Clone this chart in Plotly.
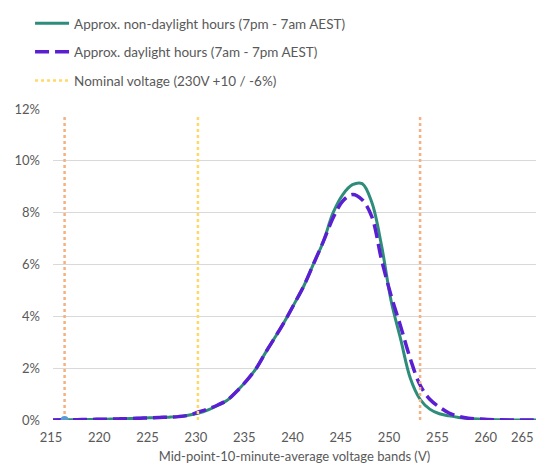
import plotly.graph_objects as go

voltage = list(range(215, 266))

non_daylight = [0, 0.005, 0.01, 0.015, 0.02, 0.03, 0.035, 0.045, 0.055, 0.07,
                0.085, 0.1, 0.11, 0.13, 0.18, 0.26, 0.38, 0.55, 0.75, 1.1,
                1.5, 1.97, 2.6, 3.2, 3.82, 4.5, 5.2, 6.05, 6.9, 8.0,
                8.7, 9.08, 9.12, 8.4, 6.75, 4.6, 3.1, 1.6, 0.8, 0.42,
                0.24, 0.16, 0.1, 0.06, 0.035, 0.02, 0.01, 0.005, 0, 0, 0]

daylight = [0, 0.005, 0.01, 0.015, 0.02, 0.03, 0.035, 0.045, 0.055, 0.07,
            0.085, 0.1, 0.11, 0.13, 0.18, 0.3, 0.42, 0.57, 0.76, 1.1,
            1.5, 1.97, 2.6, 3.2, 3.82, 4.5, 5.2, 6.05, 6.9, 7.8,
            8.45, 8.7, 8.5, 7.85, 6.2, 4.8, 3.6, 2.35, 1.35, 0.8,
            0.5, 0.27, 0.14, 0.07, 0.04, 0.02, 0.01, 0, 0, 0, 0]

nominal_v = 230
lower_v = 216.2
upper_v = 253
line_top = 11.8

x_ticks = list(range(215, 266, 5))
y_ticks = list(range(0, 13, 2))

font_family = "Lato, 'Open Sans', sans-serif"
grey = "#595959"

fig = go.Figure()

fig.add_trace(go.Scatter(
    x=voltage, y=non_daylight, mode="lines", line_shape="spline",
    line=dict(color="#2E8C7A", width=3),
    name="Approx. non-daylight hours (7pm - 7am AEST)", legendgroup="a"))

fig.add_trace(go.Scatter(
    x=voltage, y=daylight, mode="lines", line_shape="spline",
    line=dict(color="#5A1FD3", width=3.5, dash="14px,6px"),
    name="Approx. daylight hours (7am - 7pm AEST)", legendgroup="b"))

fig.add_trace(go.Scatter(
    x=[nominal_v, nominal_v], y=[0, line_top], mode="lines",
    line=dict(color="#FFD966", width=2.5, dash="dot"),
    name="Nominal voltage (230V +10 / -6%)", legendgroup="c"))

for v in (lower_v, upper_v):
    fig.add_trace(go.Scatter(
        x=[v, v], y=[0, line_top], mode="lines",
        line=dict(color="#F4B183", width=2.5, dash="dot"),
        showlegend=False, hoverinfo="skip"))

fig.add_trace(go.Scatter(
    x=[lower_v], y=[0], mode="markers",
    marker=dict(color="#5B9BD5", size=8), showlegend=False))

# last tick label drawn as annotation so it is not clipped at the page edge
fig.add_annotation(
    x=x_ticks[-1], y=0, xref="x", yref="y",
    text=str(x_ticks[-1]), showarrow=False,
    xanchor="right", yanchor="top", yshift=-7,
    font=dict(size=13, color=grey))

fig.update_layout(
    width=538, height=456,
    margin=dict(l=45, r=10, t=101, b=44, autoexpand=False),
    paper_bgcolor="white", plot_bgcolor="white",
    font=dict(family=font_family, size=13, color=grey),
    showlegend=True,
    legend=dict(
        xref="container", yref="container",
        x=0.041, y=1.0215, xanchor="left", yanchor="top",
        font=dict(size=13.5, color=grey),
        tracegroupgap=8, itemwidth=34,
        bgcolor="rgba(0,0,0,0)",
    ),
    xaxis=dict(
        range=[215, 265], tickmode="array", tickvals=x_ticks[:-1],
        ticktext=[str(t) for t in x_ticks[:-1]],
        showgrid=False, zeroline=False, showline=False,
        ticks="", tickfont=dict(size=13, color=grey),
        ticklabelstandoff=8, ticklabelshift=-2, ticklabeloverflow="allow",
        title=dict(text="Mid-point-10-minute-average voltage bands (V)",
                   font=dict(size=13, color=grey), standoff=10),
    ),
    yaxis=dict(
        range=[0, 12], tickmode="array", tickvals=y_ticks,
        ticktext=[f"{t}%" for t in y_ticks],
        showgrid=True, gridcolor="#D9D9D9", gridwidth=1,
        zeroline=False, showline=False, ticks="",
        ticklabelstandoff=12,
        tickfont=dict(size=13, color=grey),
    ),
)

fig.write_html("out.html")
